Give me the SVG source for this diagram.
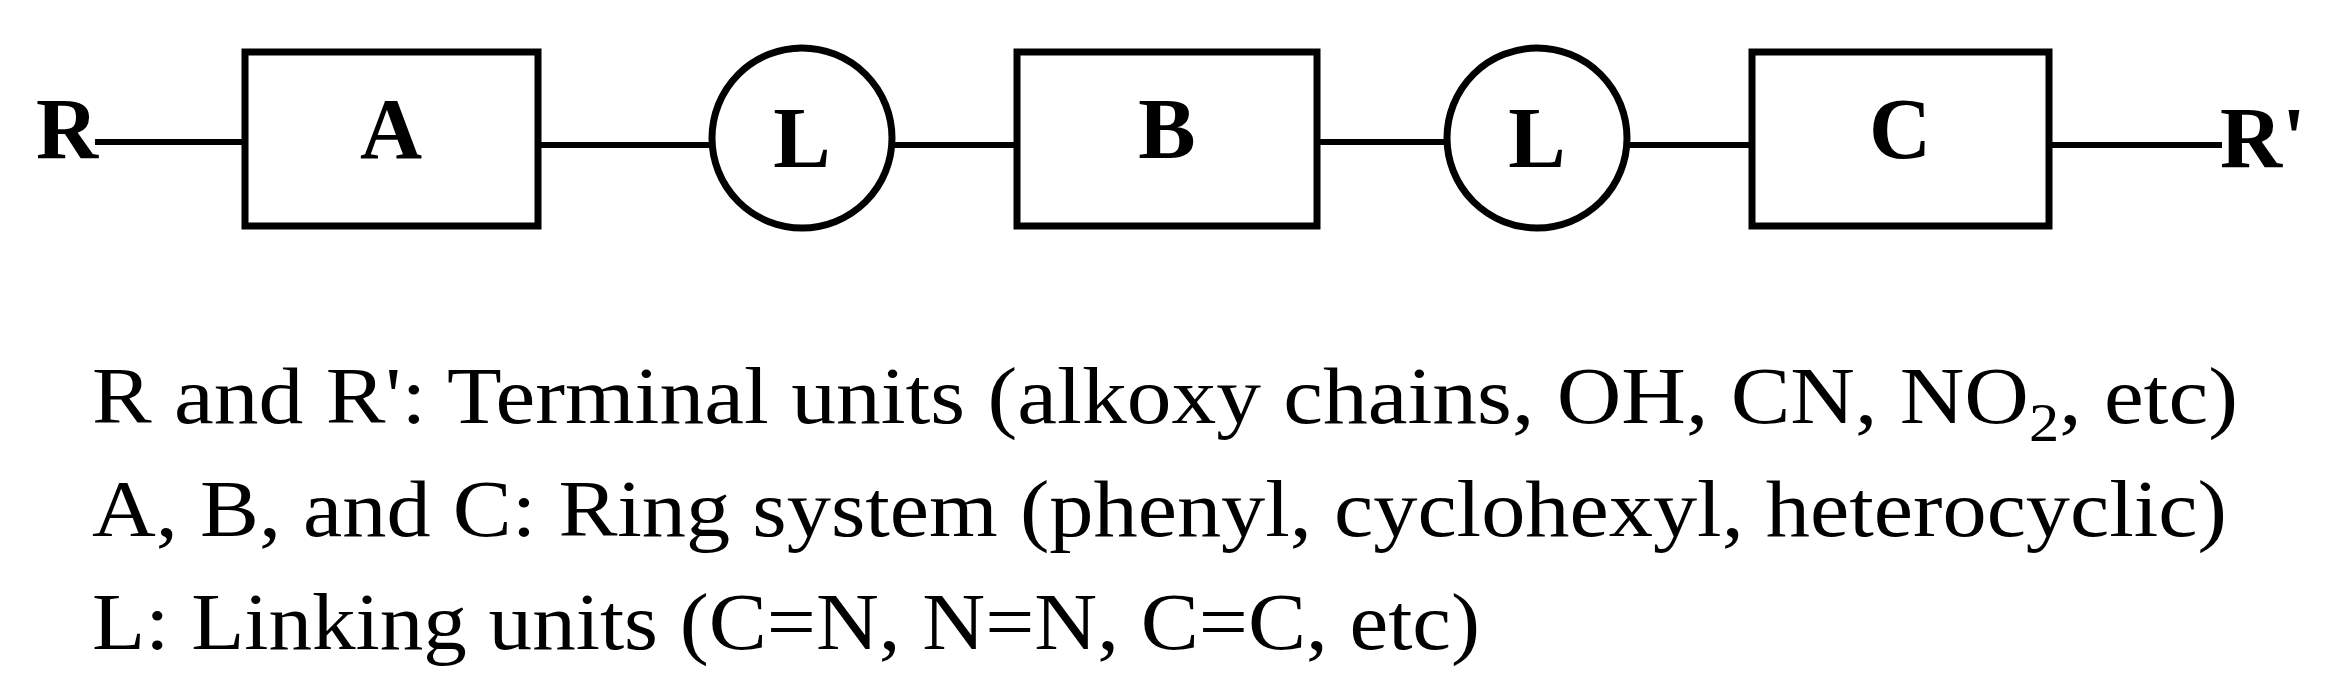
<svg xmlns="http://www.w3.org/2000/svg" width="2328" height="687" viewBox="0 0 2328 687">
<style>
.b{fill:#fff;stroke:#000;stroke-width:7}
.l{stroke:#000;stroke-width:6}
.t{font-family:"Liberation Serif",serif;font-weight:bold;font-size:86px;text-anchor:middle}
.d{font-family:"Liberation Serif",serif;font-size:80px}
</style>
<rect width="2328" height="687" fill="#fff"/>
<g id="connectors">
<line class="l" x1="95" y1="142" x2="245" y2="142"/>
<line class="l" x1="538" y1="145" x2="712" y2="145"/>
<line class="l" x1="893" y1="145" x2="1017" y2="145"/>
<line class="l" x1="1317" y1="142" x2="1447" y2="142"/>
<line class="l" x1="1627" y1="145" x2="1752" y2="145"/>
<line class="l" x1="2049" y1="145" x2="2222" y2="145"/>
</g>
<g id="R"><text class="t" x="67" y="158">R</text></g>
<g id="A"><rect class="b" x="245" y="52" width="293" height="174"/><text class="t" x="391" y="158">A</text></g>
<g id="L1"><circle class="b" cx="802" cy="138" r="90"/><text class="t" x="802" y="167">L</text></g>
<g id="B"><rect class="b" x="1017" y="52" width="300" height="174"/><text class="t" x="1167" y="158">B</text></g>
<g id="L2"><circle class="b" cx="1537" cy="138" r="90"/><text class="t" x="1537" y="167">L</text></g>
<g id="C"><rect class="b" x="1752" y="52" width="297" height="174"/><text class="t" x="1900" y="158">C</text></g>
<g id="R2"><text class="t" x="2263" y="167">R'</text></g>
<g id="legend">
<text class="d" x="92" y="423" textLength="2146" lengthAdjust="spacingAndGlyphs">R and R': Terminal units (alkoxy chains, OH, CN, NO<tspan font-size="54" dy="18">2</tspan><tspan dy="-18">, etc)</tspan></text>
<text class="d" x="92" y="536" textLength="2135" lengthAdjust="spacingAndGlyphs">A, B, and C: Ring system (phenyl, cyclohexyl, heterocyclic)</text>
<text class="d" x="92" y="649" textLength="1388" lengthAdjust="spacingAndGlyphs">L: Linking units (C=N, N=N, C=C, etc)</text>
</g>
</svg>
